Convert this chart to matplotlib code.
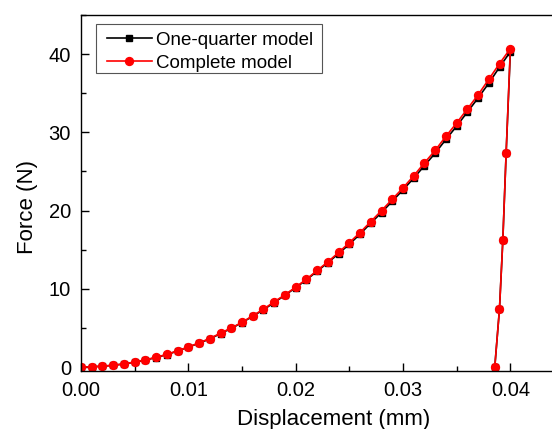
import matplotlib
matplotlib.use("Agg")
import matplotlib.pyplot as plt
from matplotlib.ticker import MultipleLocator, FormatStrFormatter
from matplotlib.patches import Rectangle

plt.rcParams['font.family'] = ['Liberation Sans', 'DejaVu Sans']

# Data (displacement in mm, force in N)
disp_quarter = [0.000, 0.001, 0.002, 0.003, 0.004, 0.005, 0.006, 0.007, 0.008, 0.009,
                0.010, 0.011, 0.012, 0.013, 0.014, 0.015, 0.016, 0.017, 0.018, 0.019,
                0.020, 0.021, 0.022, 0.023, 0.024, 0.025, 0.026, 0.027, 0.028, 0.029,
                0.030, 0.031, 0.032, 0.033, 0.034, 0.035, 0.036, 0.037, 0.038, 0.039,
                0.040, 0.03961, 0.03930, 0.03899, 0.03855]
force_quarter = [0.0, 0.02, 0.12, 0.22, 0.40, 0.62, 0.90, 1.22, 1.60, 2.05,
                 2.55, 3.05, 3.60, 4.28, 4.95, 5.68, 6.50, 7.33, 8.25, 9.18,
                 10.15, 11.15, 12.25, 13.35, 14.5, 15.7, 17.0, 18.4, 19.75, 21.2,
                 22.65, 24.15, 25.75, 27.35, 29.1, 30.8, 32.6, 34.4, 36.3, 38.35,
                 40.3, 27.4, 16.2, 7.44, 0.0]

disp_complete = [0.000, 0.001, 0.002, 0.003, 0.004, 0.005, 0.006, 0.007, 0.008, 0.009,
                 0.010, 0.011, 0.012, 0.013, 0.014, 0.015, 0.016, 0.017, 0.018, 0.019,
                 0.020, 0.021, 0.022, 0.023, 0.024, 0.025, 0.026, 0.027, 0.028, 0.029,
                 0.030, 0.031, 0.032, 0.033, 0.034, 0.035, 0.036, 0.037, 0.038, 0.039,
                 0.040, 0.03961, 0.03930, 0.03899, 0.03855]
force_complete = [0.0, 0.03, 0.13, 0.23, 0.42, 0.64, 0.93, 1.25, 1.63, 2.08,
                  2.57, 3.10, 3.65, 4.34, 5.00, 5.72, 6.56, 7.40, 8.35, 9.24,
                  10.22, 11.23, 12.35, 13.45, 14.65, 15.9, 17.2, 18.6, 20.0, 21.45,
                  22.9, 24.45, 26.1, 27.7, 29.5, 31.2, 33.0, 34.8, 36.8, 38.8,
                  40.7, 27.4, 16.2, 7.44, 0.0]

W, H = 552, 429
fig = plt.figure(figsize=(W / 100, H / 100), dpi=100)
left_px, right_px, top_px, bottom_px = 81, 564, 15, 371
ax = fig.add_axes([left_px / W, 1 - bottom_px / H,
                   (right_px - left_px) / W, (bottom_px - top_px) / H])
axw, axh = right_px - left_px, bottom_px - top_px

ax.plot(disp_quarter, force_quarter, color='black', marker='s', markersize=5.0,
        linewidth=1.2, label='One-quarter model')
ax.plot(disp_complete, force_complete, color='#FF0000', marker='o', markersize=5.7,
        linewidth=1.2, label='Complete model')

ax.set_xlim(0, 0.045)
ax.set_ylim(-0.5, 45)
ax.xaxis.set_major_locator(MultipleLocator(0.01))
ax.xaxis.set_minor_locator(MultipleLocator(0.005))
ax.xaxis.set_major_formatter(FormatStrFormatter('%.2f'))
ax.yaxis.set_major_locator(MultipleLocator(10))
ax.yaxis.set_minor_locator(MultipleLocator(5))

ax.tick_params(which='both', direction='in', top=False, right=False,
               labelsize=14.5, width=1.0)
ax.tick_params(which='major', length=5.8, pad=7.2)
ax.tick_params(which='minor', length=3.6)
for s in ax.spines.values():
    s.set_linewidth(1.0)

ax.set_xlabel('Displacement (mm)', fontsize=16)
ax.xaxis.set_label_coords((333.5 - left_px) / axw, -(408.7 - bottom_px) / axh)
ax.set_ylabel('Force (N)', fontsize=16)
ax.yaxis.set_label_coords((38 - left_px) / axw, (bottom_px - 207.5) / axh)

leg = ax.legend(loc='upper left',
                bbox_to_anchor=((106.7 - left_px) / axw, 1 - (31.5 - top_px) / axh),
                borderaxespad=0, borderpad=0, fontsize=13.5, frameon=False,
                handlelength=2.4, handletextpad=0.25, labelspacing=0.33)
ax.add_patch(Rectangle(((96 - left_px) / axw, 1 - (73.3 - top_px) / axh),
                       (321.7 - 96) / axw, (73.3 - 24) / axh,
                       transform=ax.transAxes, fill=False, edgecolor='#555555',
                       linewidth=0.8, zorder=5))

fig.savefig('out.png', dpi=100)
